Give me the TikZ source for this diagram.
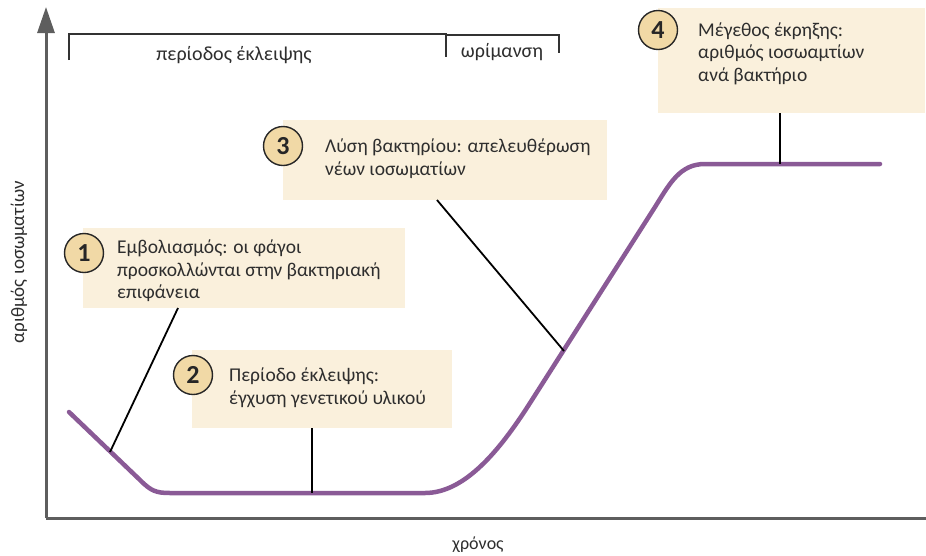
\documentclass[tikz,border=0pt]{standalone}
\usepackage{fontspec}
\setmainfont{Carlito}
\usetikzlibrary{arrows.meta}
\definecolor{boxfill}{HTML}{FAF0DC}
\definecolor{numfill}{HTML}{F1D9A6}
\definecolor{purp}{HTML}{8A5A96}
\definecolor{axisgray}{HTML}{5E5E5E}
\definecolor{txt}{HTML}{2E2E2E}
\tikzset{
  infobox/.style={fill=boxfill, draw=none, anchor=north west, inner sep=0pt},
  numcirc/.style={circle, fill=numfill, draw=black!85, line width=1.4pt, minimum size=39pt, inner sep=0pt, font=\fontsize{26}{26}\selectfont\bfseries, text=black!85},
  txtline/.style={anchor=base west, inner sep=0pt, text=txt, font=\fontsize{19.5}{22}\selectfont},
  lbl/.style={inner sep=0pt, text=txt, font=\fontsize{20}{22}\selectfont},
  conn/.style={draw=black, line width=1.8pt},
  curve/.style={draw=purp, line width=4.5pt, line cap=round, line join=round},
  axisline/.style={draw=axisgray, line width=3pt},
  brack/.style={draw=black!80, line width=1.1pt}
}
\begin{document}
\begin{tikzpicture}[x=1pt, y=-1pt]
\useasboundingbox (0,0) rectangle (926,555);

% axes
\draw[axisline] (46,518) -- (926,518);
\draw[axisline, -{Triangle[width=17pt,length=26pt]}] (46,518) -- (46,7);

% brackets
\draw[brack] (69,60) -- (69,34) -- (446,34) -- (446,57);
\draw[brack] (446,35) -- (559,35) -- (559,53);
\node[lbl] (tecl) at (234,55) {περίοδος έκλειψης};
\node[lbl] (tmat) at (502,52) {ωρίμανση};

% axis labels
\node[lbl, font=\fontsize{19}{21}\selectfont, rotate=90] (ylab) at (19,262) {αριθμός ιοσωματίων};
\node[lbl, font=\fontsize{18}{20}\selectfont] (xlab) at (478,545) {χρόνος};

% curve
\draw[curve] (69,412) -- (140,480) .. controls (151,491) and (156,493) .. (170,493) -- (425,493)
  .. controls (465,493) and (500,450) .. (530,403) -- (655,207)
  .. controls (670,183) and (680,164) .. (705,164) -- (880,164);

% boxes
\node[infobox, minimum width=322pt, minimum height=80pt] (b1) at (83,228) {};
\node[infobox, minimum width=260pt, minimum height=78pt] (b2) at (192,350) {};
\node[infobox, minimum width=324pt, minimum height=80pt] (b3) at (283,120) {};
\node[infobox, minimum width=267pt, minimum height=105pt] (b4) at (658,8) {};

% texts
\node[txtline] (t1a) at (117,253) {Εμβολιασμός: οι φάγοι};
\node[txtline] (t1b) at (117,276) {προσκολλώνται στην βακτηριακή};
\node[txtline] (t1c) at (117,298) {επιφάνεια};
\node[txtline] (t2a) at (229,381) {Περίοδο έκλειψης:};
\node[txtline] (t2b) at (229,404) {έγχυση γενετικού υλικού};
\node[txtline] (t3a) at (325,152) {Λύση βακτηρίου: απελευθέρωση};
\node[txtline] (t3b) at (325,175) {νέων ιοσωματίων};
\node[txtline] (t4a) at (698,36) {Μέγεθος έκρηξης:};
\node[txtline] (t4b) at (698,58) {αριθμός ιοσωαμτίων};
\node[txtline] (t4c) at (698,81) {ανά βακτήριο};

% number circles
\node[numcirc] (n1) at (84,253) {1};
\node[numcirc] (n2) at (193,375) {2};
\node[numcirc] (n3) at (283,146) {3};
\node[numcirc] (n4) at (658,30) {4};

% connectors
\coordinate (s1) at (178,308);
\coordinate (e1) at (110,452);
\coordinate (s2) at (312,428);
\coordinate (e2) at (312,493);
\coordinate (s3) at (437,200);
\coordinate (e3) at (564,351);
\coordinate (s4) at (780,113);
\coordinate (e4) at (780,164);
\draw[conn] (s1) -- (e1);
\draw[conn] (s2) -- (e2);
\draw[conn] (s3) -- (e3);
\draw[conn] (s4) -- (e4);
\end{tikzpicture}
\end{document}
